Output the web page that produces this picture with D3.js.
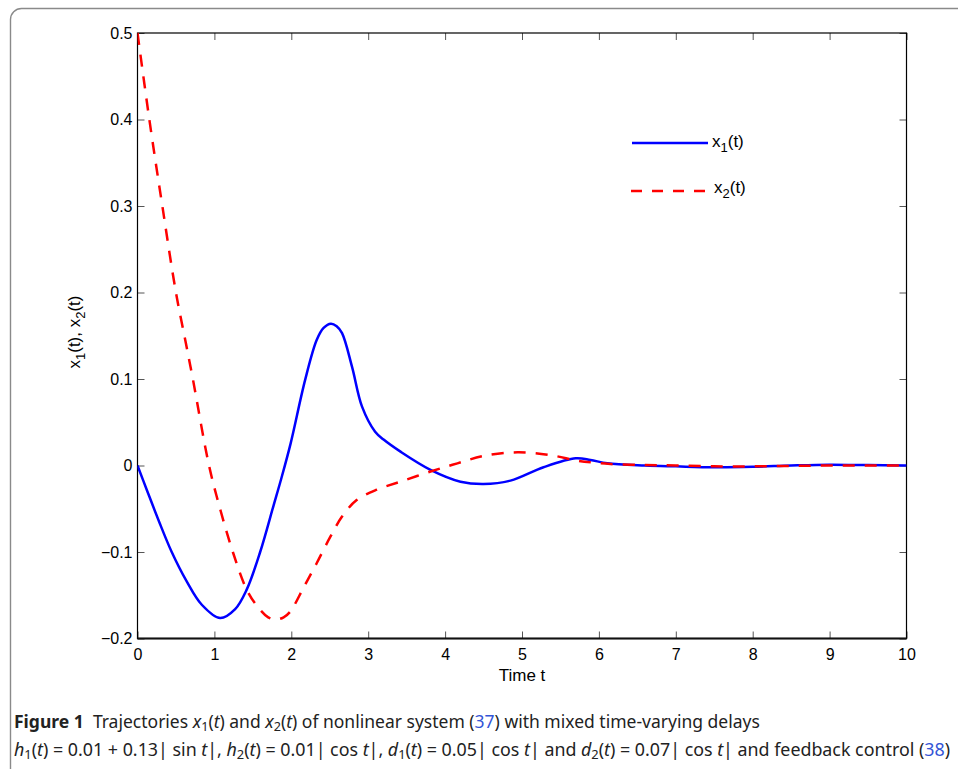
<!DOCTYPE html>
<html>
<head>
<meta charset="utf-8">
<script src="https://cdn.jsdelivr.net/npm/d3@7"></script>
<style>
  body { margin: 0; background: #fff; }
  svg { display: block; }
</style>
</head>
<body>
<div id="chart"></div>
<script>
// data
let tX1 = [0, 0.12, 0.28, 0.445, 0.64, 0.836, 1.074, 1.27, 1.42, 1.595, 1.77, 1.87, 1.99, 2.18, 2.33, 2.42, 2.515, 2.59, 2.66, 2.79, 2.92, 3.09, 3.2, 3.42, 3.81, 4.2, 4.5, 4.85, 5.28, 5.7, 5.89, 6.11, 6.6, 7, 7.5, 8, 8.5, 9, 9.5, 10];
let x1 = [0, -0.028, -0.0647, -0.1, -0.134, -0.161, -0.1764, -0.166, -0.1435, -0.1, -0.046, -0.015, 0.025, 0.099, 0.145, 0.159, 0.164, 0.161, 0.153, 0.114, 0.068, 0.039, 0.03, 0.016, -0.005, -0.0187, -0.0214, -0.0175, -0.002, 0.0083, 0.0064, 0.0025, 0, -0.001, -0.002, -0.0015, 0, 0.001, 0.0005, 0];

let tX2 = [0, 0.154, 0.323, 0.5, 0.63, 0.72, 0.93, 1.08, 1.24, 1.42, 1.56, 1.7, 1.8, 1.9, 1.985, 2.16, 2.33, 2.51, 2.66, 2.85, 3.11, 3.42, 3.81, 4.16, 4.5, 4.94, 5.37, 5.72, 5.93, 6.15, 6.6, 7, 7.5, 8, 8.5, 9, 9.5, 10];
let x2 = [0.5, 0.4, 0.3, 0.2, 0.141, 0.1, 0, -0.052, -0.1, -0.1435, -0.163, -0.1755, -0.178, -0.1755, -0.169, -0.141, -0.113, -0.082, -0.059, -0.04, -0.028, -0.0187, -0.007, 0.0025, 0.011, 0.0152, 0.012, 0.0056, 0.0033, 0.0017, 0.0005, 0, -0.001, -0.001, -0.0005, 0, 0, 0];

let xTicks = [0, 1, 2, 3, 4, 5, 6, 7, 8, 9, 10];
let yTicks = [-0.2, -0.1, 0, 0.1, 0.2, 0.3, 0.4, 0.5];
let yTickLabels = ["\u22120.2", "\u22120.1", "0", "0.1", "0.2", "0.3", "0.4", "0.5"];

let W = 958, H = 769;
let pLeft = 137.5, pRight = 906.5, pTop = 33, pBottom = 638.5;
let tickFont = "Liberation Sans, Arial, sans-serif";

let svg = d3.select("#chart").append("svg")
  .attr("width", W)
  .attr("height", H);

// rounded frame round the figure
svg.append("rect")
  .attr("x", 10.5).attr("y", 8.5)
  .attr("width", 1000).attr("height", 820)
  .attr("rx", 11)
  .style("fill", "none")
  .style("stroke", "#8a8a8a")
  .style("stroke-width", "1.4px");

let x = d3.scaleLinear().domain([0, 10]).range([pLeft, pRight]);
let y = d3.scaleLinear().domain([-0.2, 0.5]).range([pBottom, pTop]);

// ticks on all four sides, pointing in
let g = svg.append("g");
g.append("g")
  .attr("transform", "translate(0," + pBottom + ")")
  .call(d3.axisBottom(x).tickValues(xTicks).tickSize(-7).tickPadding(10).tickFormat(d3.format("d")));
g.append("g")
  .attr("transform", "translate(0," + pTop + ")")
  .call(d3.axisTop(x).tickValues(xTicks).tickSize(-7).tickFormat(""));
g.append("g")
  .attr("transform", "translate(" + pLeft + ",0)")
  .call(d3.axisLeft(y).tickValues(yTicks).tickSize(-7).tickPadding(5)
    .tickFormat(function (d, i) { return yTickLabels[i]; }));
g.append("g")
  .attr("transform", "translate(" + pRight + ",0)")
  .call(d3.axisRight(y).tickValues(yTicks).tickSize(-7).tickFormat(""));

g.selectAll(".domain").remove();
g.selectAll(".tick line").style("stroke", "#555").style("stroke-width", "1px");
g.selectAll(".tick text")
  .style("font-family", tickFont)
  .style("font-size", "16px")
  .style("fill", "#000");

// box
svg.append("rect")
  .attr("x", pLeft).attr("y", pTop)
  .attr("width", pRight - pLeft).attr("height", pBottom - pTop)
  .style("fill", "none")
  .style("stroke", "#000")
  .style("stroke-width", "1.2px");
svg.append("line")
  .attr("x1", pLeft).attr("x2", pRight)
  .attr("y1", pBottom).attr("y2", pBottom)
  .style("stroke", "#111")
  .style("stroke-width", "1.8px");

// curves
let line = d3.line()
  .x(function (d) { return x(d[0]); })
  .y(function (d) { return y(d[1]); })
  .curve(d3.curveCatmullRom.alpha(0.5));

svg.append("clipPath").attr("id", "clip")
  .append("rect")
  .attr("x", pLeft).attr("y", pTop - 2)
  .attr("width", pRight - pLeft).attr("height", pBottom - pTop + 2);

svg.append("path")
  .datum(d3.zip(tX1, x1))
  .attr("d", line)
  .attr("clip-path", "url(#clip)")
  .style("fill", "none")
  .style("stroke", "#0000ff")
  .style("stroke-width", "2.5px");

svg.append("path")
  .datum(d3.zip(tX2, x2))
  .attr("d", line)
  .attr("clip-path", "url(#clip)")
  .style("fill", "none")
  .style("stroke", "#ff0000")
  .style("stroke-width", "2.5px")
  .style("stroke-dasharray", "12,10");

// legend
function subLabel(sel, name, sub, rest) {
  sel.append("tspan").text(name);
  sel.append("tspan").attr("dy", 5).style("font-size", "13px").text(sub);
  sel.append("tspan").attr("dy", -5).text(rest);
}

svg.append("line")
  .attr("x1", 632).attr("x2", 708).attr("y1", 143).attr("y2", 143)
  .style("stroke", "#0000ff").style("stroke-width", "2.5px");
svg.append("text")
  .attr("x", 712).attr("y", 147)
  .style("font-family", tickFont).style("font-size", "17px")
  .call(subLabel, "x", "1", "(t)");

svg.append("line")
  .attr("x1", 631).attr("x2", 706).attr("y1", 191).attr("y2", 191)
  .style("stroke", "#ff0000").style("stroke-width", "2.5px")
  .style("stroke-dasharray", "11,10");
svg.append("text")
  .attr("x", 714).attr("y", 193)
  .style("font-family", tickFont).style("font-size", "17px")
  .call(subLabel, "x", "2", "(t)");

// axis titles
svg.append("text")
  .attr("x", (pLeft + pRight) / 2).attr("y", 681)
  .attr("text-anchor", "middle")
  .style("font-family", tickFont).style("font-size", "17px")
  .text("Time t");

let yl = svg.append("text")
  .attr("transform", "translate(80,332) rotate(-90)")
  .attr("text-anchor", "middle")
  .style("font-family", tickFont).style("font-size", "17px");
subLabel(yl, "x", "1", "(t), ");
yl.append("tspan").text("x");
yl.append("tspan").attr("dy", 5).style("font-size", "13px").text("2");
yl.append("tspan").attr("dy", -5).text("(t)");

// caption, two lines, squeezed to the width of the original
let capFont = "Noto Sans, Open Sans, sans-serif";
let link = "#3355d6";

function addLine(parts, baseline, width) {
  let t = svg.append("text")
    .style("font-family", capFont)
    .style("font-size", "18px")
    .style("fill", "#222");
  parts.forEach(function (p) {
    let s = t.append("tspan").text(p.s);
    if (p.b) s.style("font-weight", "bold");
    if (p.i) s.style("font-style", "italic");
    if (p.c) s.style("fill", p.c);
    if (p.sub) s.attr("dy", 3).style("font-size", "13px");
    if (p.up) s.attr("dy", -3);
  });
  let w = t.node().getComputedTextLength();
  t.attr("transform", "translate(14," + baseline + ") scale(" + (width / w) + ",1)");
}

addLine([
  { s: "Figure 1", b: true },
  { s: "\u00a0\u00a0Trajectories " },
  { s: "x", i: true }, { s: "1", sub: true }, { s: "(", up: true }, { s: "t", i: true }, { s: ") and " },
  { s: "x", i: true }, { s: "2", sub: true }, { s: "(", up: true }, { s: "t", i: true },
  { s: ") of nonlinear system (" }, { s: "37", c: link }, { s: ") with mixed time-varying delays" }
], 728, 746);

addLine([
  { s: "h", i: true }, { s: "1", sub: true }, { s: "(", up: true }, { s: "t", i: true },
  { s: ") = 0.01 + 0.13| sin " }, { s: "t", i: true }, { s: "|, " },
  { s: "h", i: true }, { s: "2", sub: true }, { s: "(", up: true }, { s: "t", i: true },
  { s: ") = 0.01| cos " }, { s: "t", i: true }, { s: "|, " },
  { s: "d", i: true }, { s: "1", sub: true }, { s: "(", up: true }, { s: "t", i: true },
  { s: ") = 0.05| cos " }, { s: "t", i: true }, { s: "| and " },
  { s: "d", i: true }, { s: "2", sub: true }, { s: "(", up: true }, { s: "t", i: true },
  { s: ") = 0.07| cos " }, { s: "t", i: true }, { s: "| and feedback control (" },
  { s: "38", c: link }, { s: ")" }
], 756, 937);
</script>
</body>
</html>
